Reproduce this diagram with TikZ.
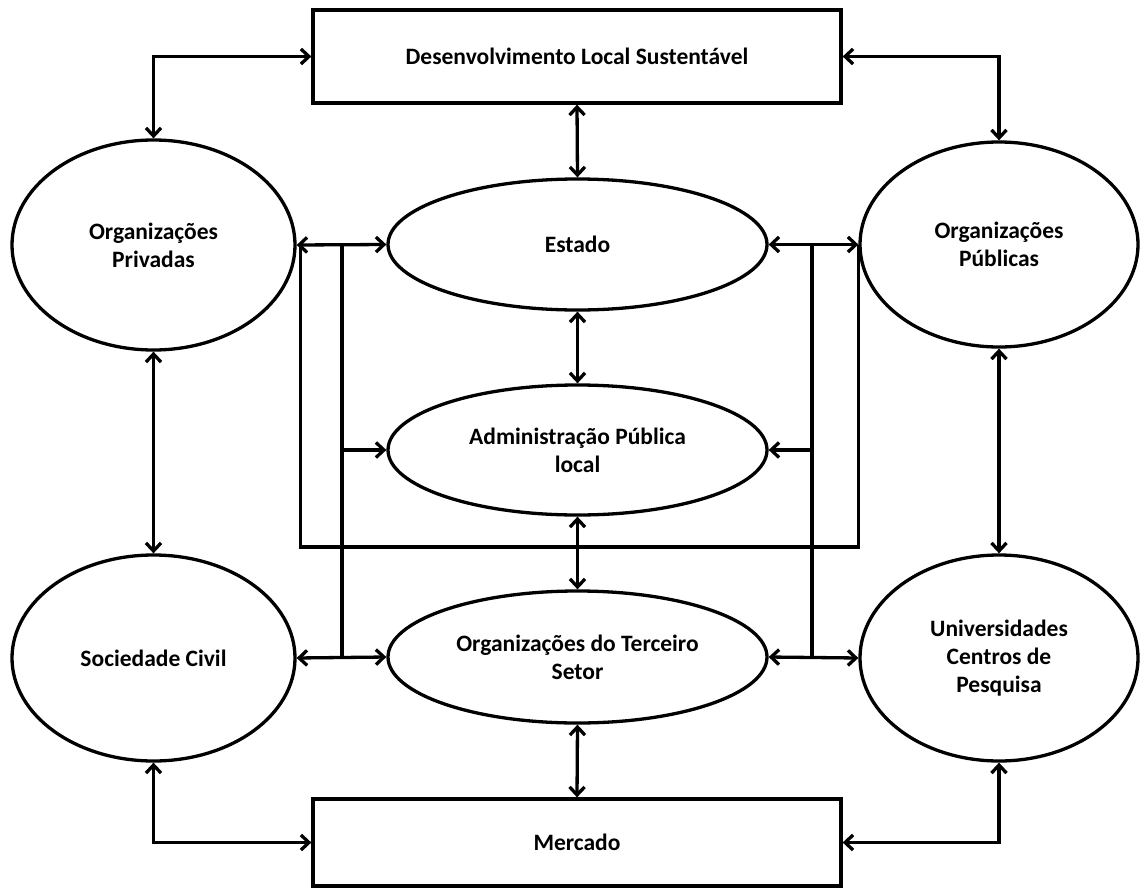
\documentclass[tikz,border=0pt]{standalone}
\usepackage{fontspec}
\setmainfont{Carlito}
\usetikzlibrary{shapes.geometric,arrows.meta}
\begin{document}
\begin{tikzpicture}[x=1pt,y=-1pt,
  every node/.style={font=\fontsize{23.5}{28}\selectfont\bfseries, align=center, inner sep=0pt},
  box/.style={draw, line width=3.3pt, rectangle},
  oval/.style={draw, line width=3.3pt, ellipse},
  link/.style={line width=3.3pt, >={Straight Barb[length=8pt,width=15pt]}},
  bus/.style={line width=3.3pt}]
\useasboundingbox (0,0) rectangle (1140,891);

% rectangles
\node[box, minimum width=528pt, minimum height=93pt] (dls) at (577,56.5) {Desenvolvimento Local Sustentável};
\node[box, minimum width=528pt, minimum height=87pt] (merc) at (577,842.5) {Mercado};

% side ellipses
\node[oval, minimum width=283pt, minimum height=210pt] (opriv) at (153.5,245) {Organizações\\Privadas};
\node[oval, minimum width=283pt, minimum height=206pt] (soc) at (153.5,658) {Sociedade Civil};
\node[oval, minimum width=278pt, minimum height=205pt] (opub) at (999,244.5) {Organizações\\Públicas};
\node[oval, minimum width=278pt, minimum height=206pt] (univ) at (999,658) {Universidades\\Centros de\\Pesquisa};

% central ellipses
\node[oval, minimum width=379pt, minimum height=131pt] (estado) at (577.5,244.5) {Estado};
\node[oval, minimum width=379pt, minimum height=130pt] (admin) at (577.5,450) {Administração Pública\\local};
\node[oval, minimum width=379pt, minimum height=132pt] (terc) at (577.5,657) {Organizações do Terceiro\\Setor};

% junction points
\coordinate (busY) at (0,547);
\coordinate (tapL) at (342,0);
\coordinate (tapR) at (812,0);

% outer frame connectors
\draw[link,<->] (dls.west) -| (opriv.north);
\draw[link,<->] (dls.east) -| (opub.north);
\draw[link,<->] (soc.south) |- (merc.west);
\draw[link,<->] (univ.south) |- (merc.east);
\draw[link,<->] (opriv.south) -- (soc.north);
\draw[link,<->] (opub.south) -- (univ.north);

% central column
\draw[link,<->] (dls.south) -- (estado.north);
\draw[link,<->] (estado.south) -- (admin.north);
\draw[link,<->] (admin.south) -- (terc.north);
\draw[link,<->] (terc.south) -- (merc.north);

% horizontal links
\draw[link,<->] (opriv.east) -- (estado.west);
\draw[link,<->] (estado.east) -- (opub.west);
\draw[link,<->] (soc.east) -- (terc.west);
\draw[link,<->] (terc.east) -- (univ.west);

% vertical taps
\draw[bus] (tapL |- estado.west) -- (tapL |- terc.west);
\draw[bus] (tapR |- estado.east) -- (tapR |- terc.east);
\draw[link,->] (tapL |- admin.west) -- (admin.west);
\draw[link,->] (tapR |- admin.east) -- (admin.east);

% lower bus joining the two organisation ellipses
\draw[bus] ([xshift=4pt]opriv.east) -- ([xshift=4pt]opriv.east |- busY) -- (opub.west |- busY) -- (opub.west);
\end{tikzpicture}
\end{document}
